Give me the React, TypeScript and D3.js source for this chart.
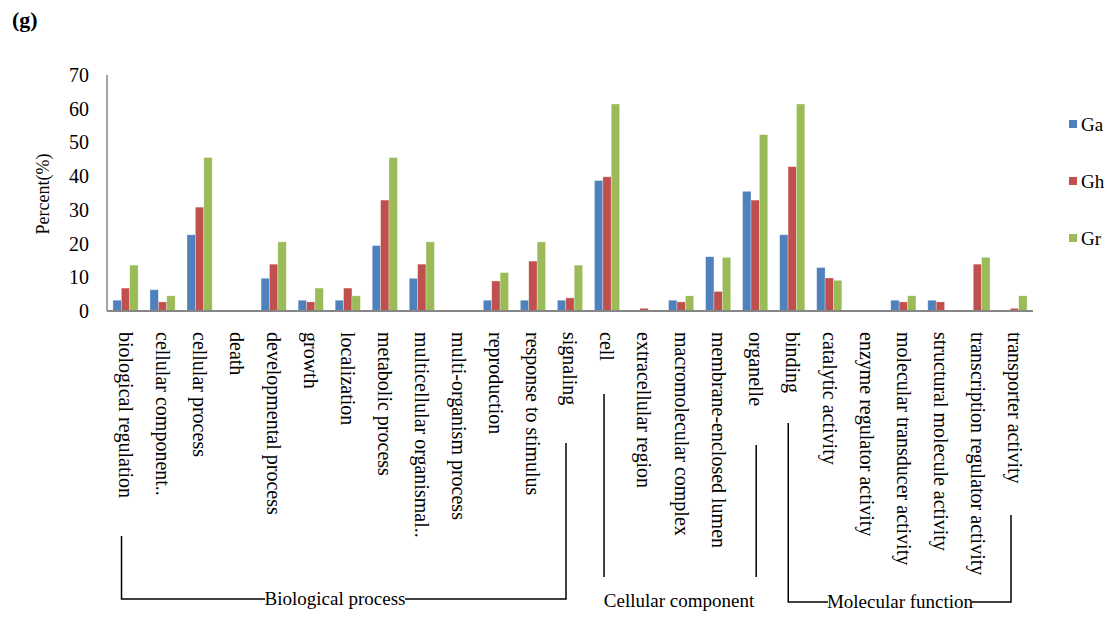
import React from "react";
import * as d3 from "d3";

const categories = [
  "biological regulation", "cellular component..", "cellular process", "death",
  "developmental process", "growth", "localization", "metabolic process",
  "multicellular organismal..", "multi-organism process", "reproduction",
  "response to stimulus", "signaling", "cell", "extracellular region",
  "macromolecular complex", "membrane-enclosed lumen", "organelle", "binding",
  "catalytic activity", "enzyme regulator activity", "molecular transducer activity",
  "structural molecule activity", "transcription regulator activity", "transporter activity",
];
const seriesNames = ["Ga", "Gh", "Gr"];
const gaValues = [3.2, 6.3, 22.6, 0, 9.7, 3.2, 3.2, 19.4, 9.7, 0, 3.2, 3.2, 3.2, 38.7, 0, 3.2, 16.1, 35.5, 22.6, 12.9, 0, 3.2, 3.2, 0, 0];
const ghValues = [6.8, 2.7, 30.8, 0, 13.9, 2.7, 6.8, 32.9, 13.9, 0, 8.9, 14.8, 3.9, 39.8, 0.8, 2.7, 5.8, 32.9, 42.8, 9.8, 0, 2.7, 2.7, 13.9, 0.8];
const grValues = [13.6, 4.5, 45.5, 0, 20.5, 6.8, 4.5, 45.5, 20.5, 0, 11.4, 20.5, 13.6, 61.4, 0, 4.5, 15.9, 52.3, 61.4, 9.1, 0, 4.5, 0, 15.9, 4.5];
const yTicks = [0, 10, 20, 30, 40, 50, 60, 70];
const groups = [
  { name: "Biological process", from: 0, to: 12 },
  { name: "Cellular component", from: 13, to: 17 },
  { name: "Molecular function", from: 18, to: 24 },
];

const colors = ["#4F81BD", "#C0504D", "#9BBB59"];
const font = "'Liberation Serif', 'Times New Roman', serif";

export default function App() {
  const W = 1107, H = 618;
  const x0 = 107, x1 = 1033, yBase = 311, yTop = 75;
  const x = d3.scaleBand<string>().domain(categories).range([x0, x1]).paddingInner(0.32).paddingOuter(0.16);
  const xs = d3.scaleBand<string>().domain(seriesNames).range([0, x.bandwidth()]);
  const y = d3.scaleLinear().domain([0, 70]).range([yBase, yTop]);
  const allSeries = [gaValues, ghValues, grValues];
  const cx = (i: number) => (x(categories[i]) as number) + x.bandwidth() / 2;

  return (
    <svg width={W} height={H} style={{ position: "absolute", left: 0, top: 0, background: "#fff" }} fontFamily={font}>
      <rect width={W} height={H} fill="#fff" />
      <text x={12} y={27} fontSize={22} fontWeight="bold">(g)</text>
      {yTicks.map((t) => (
        <text key={t} x={89} y={y(t)} dy="0.35em" textAnchor="end" fontSize={20}>{t}</text>
      ))}
      <text transform={`translate(49,194) rotate(-90)`} textAnchor="middle" fontSize={18}>Percent(%)</text>
      {allSeries.map((vals, si) =>
        vals.map((v, i) =>
          v > 0 ? (
            <rect key={`${si}-${i}`} x={(x(categories[i]) as number) + (xs(seriesNames[si]) as number)} y={y(v)}
              width={xs.bandwidth()} height={yBase - y(v)} fill={colors[si]} stroke="#ffffff" strokeOpacity={0.5} strokeWidth={0.6} />
          ) : null
        )
      )}
      <line x1={x0} x2={x0} y1={yTop} y2={yBase} stroke="#868686" strokeWidth={1.5} />
      <line x1={x0} x2={x1} y1={yBase} y2={yBase} stroke="#868686" strokeWidth={2} />
      {categories.map((c, i) => (
        <text key={c} transform={`translate(${cx(i)},332) rotate(90)`} dy="0.33em" fontSize={20}>{c}</text>
      ))}
      {seriesNames.map((s, i) => (
        <g key={s} transform={`translate(1069,${124 + i * 57})`}>
          <rect x={0} y={-4} width={8} height={8} fill={colors[i]} />
          <text x={12} y={0} dy="0.35em" fontSize={19}>{s}</text>
        </g>
      ))}
      {/* Biological process bracket */}
      <path d={`M${cx(groups[0].from) - 4},536 V599 H265 M405,599 H566 V443`} fill="none" stroke="#000" strokeWidth={1.5} />
      <text x={335} y={605} textAnchor="middle" fontSize={19}>{groups[0].name}</text>
      {/* Cellular component bracket */}
      <path d={`M${cx(groups[1].from) - 3},394 V577 M${cx(groups[1].to) + 1},445 V577`} fill="none" stroke="#000" strokeWidth={1.5} />
      <text x={679} y={607} textAnchor="middle" fontSize={19}>{groups[1].name}</text>
      {/* Molecular function bracket */}
      <path d={`M${cx(groups[2].from) - 4},423 V602 H828 M972,602 H1011 V515`} fill="none" stroke="#000" strokeWidth={1.5} />
      <text x={900} y={608} textAnchor="middle" fontSize={19}>{groups[2].name}</text>
    </svg>
  );
}
